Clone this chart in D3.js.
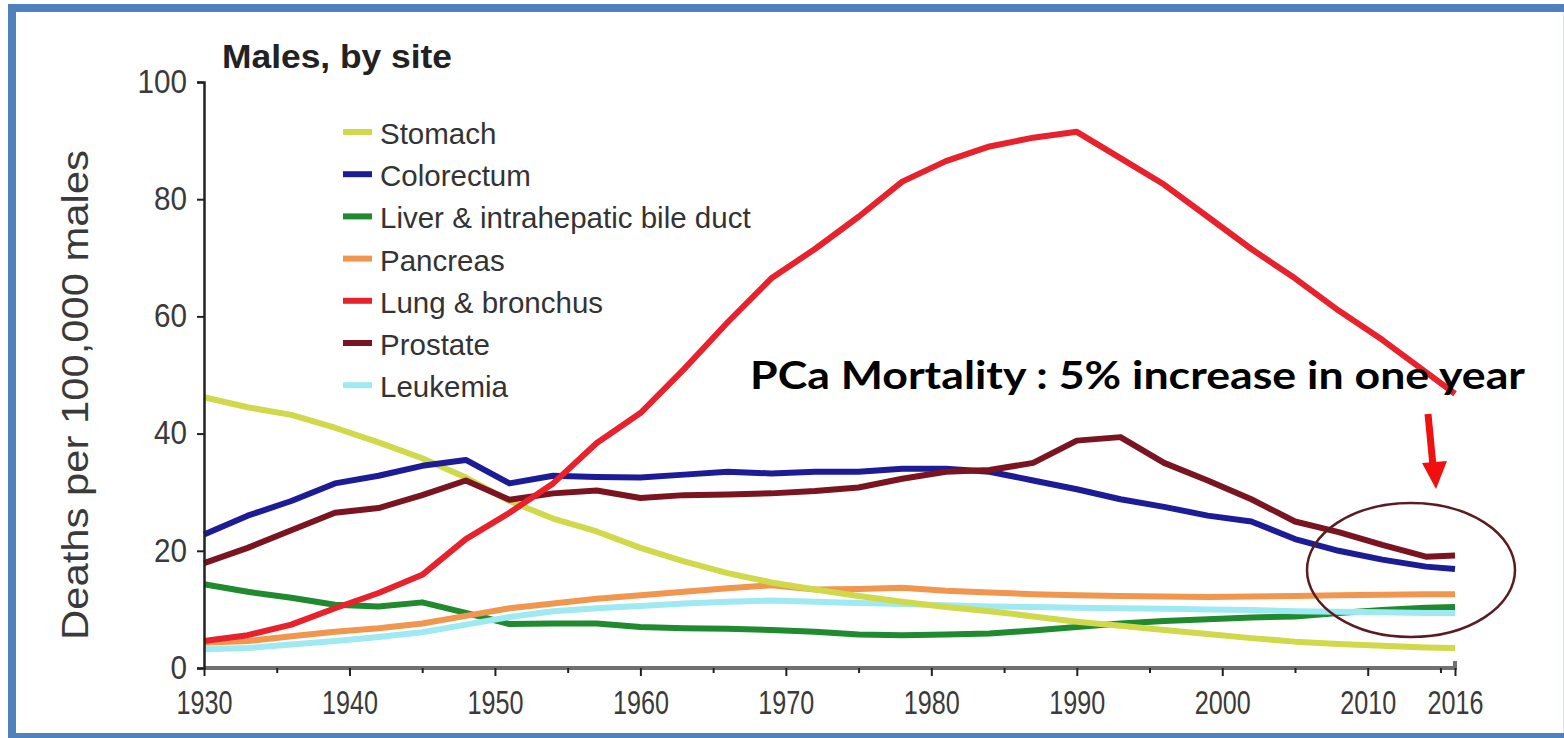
<!DOCTYPE html>
<html>
<head>
<meta charset="utf-8">
<script src="https://cdn.jsdelivr.net/npm/d3@7"></script>
<style>
  html, body { margin: 0; padding: 0; background: #fff; }
  svg { display: block; }
</style>
</head>
<body>
<div id="root"></div>
<script>
// values, deaths per 100,000 males
const years = [1930, 1933, 1936, 1939, 1942, 1945, 1948, 1951, 1954, 1957, 1960, 1963, 1966, 1969, 1972,
  1975, 1978, 1981, 1984, 1987, 1990, 1993, 1996, 1999, 2002, 2005, 2008, 2011, 2014, 2016];

const stomach = [46.2, 44.5, 43.2, 41, 38.5, 35.8, 32.5, 28.5, 25.5, 23.3, 20.5, 18.2, 16.2, 14.6, 13.4,
  12.3, 11.3, 10.4, 9.7, 8.8, 7.9, 7.2, 6.5, 5.8, 5.1, 4.5, 4.1, 3.8, 3.5, 3.4];
const colorectum = [22.8, 26, 28.5, 31.5, 32.8, 34.5, 35.5, 31.5, 32.8, 32.6, 32.5, 33, 33.5, 33.2, 33.5,
  33.5, 34, 34, 33.5, 32, 30.5, 28.8, 27.5, 26, 25, 22, 20, 18.5, 17.3, 16.9];
const liver = [14.3, 13, 12, 10.8, 10.5, 11.2, 9.4, 7.5, 7.6, 7.6, 7, 6.8, 6.7, 6.5, 6.2,
  5.7, 5.6, 5.7, 5.9, 6.4, 7, 7.6, 8, 8.3, 8.6, 8.8, 9.4, 9.9, 10.3, 10.4];
const pancreas = [4.3, 4.6, 5.4, 6.2, 6.8, 7.6, 8.9, 10.2, 11, 11.8, 12.4, 13, 13.6, 14.1, 13.4,
  13.5, 13.7, 13.2, 12.9, 12.6, 12.4, 12.3, 12.2, 12.1, 12.2, 12.3, 12.4, 12.5, 12.6, 12.6];
const lung = [4.6, 5.6, 7.4, 10.2, 12.8, 15.9, 22, 26.5, 31.5, 38.4, 43.5, 51, 59, 66.5, 71.5,
  77, 83, 86.5, 89, 90.5, 91.5, 87, 82.5, 77, 71.5, 66.5, 61, 56, 50.5, 46.8];
const prostate = [17.9, 20.5, 23.5, 26.5, 27.3, 29.5, 32, 28.7, 29.8, 30.3, 29, 29.5, 29.6, 29.8, 30.2,
  30.8, 32.3, 33.5, 33.8, 35, 38.8, 39.4, 35, 32, 28.8, 25, 23.2, 21, 19, 19.2];
const leukemia = [3.2, 3.4, 4, 4.6, 5.3, 6.1, 7.4, 8.7, 9.7, 10.2, 10.6, 11, 11.3, 11.5, 11.3,
  11.1, 10.9, 10.7, 10.5, 10.4, 10.3, 10.2, 10.1, 10, 9.9, 9.7, 9.6, 9.5, 9.4, 9.4];

const siteNames = ["Stomach", "Colorectum", "Liver & intrahepatic bile duct", "Pancreas",
  "Lung & bronchus", "Prostate", "Leukemia"];
const siteColors = ["#cfd94a", "#1c1c96", "#1f8a2e", "#f1964e", "#e8222c", "#7a1420", "#9ee9f2"];
const siteValues = [stomach, colorectum, liver, pancreas, lung, prostate, leukemia];
// drawing order, bottom first
const drawOrder = [2, 6, 3, 0, 1, 5, 4];

const xMajorTicks = [1930, 1940, 1950, 1960, 1970, 1980, 1990, 2000, 2010, 2016];
const xMinorTicks = [1935, 1945, 1955, 1965, 1975, 1985, 1995, 2005, 2015];
const yTicks = [0, 20, 40, 60, 80, 100];

const width = 1564;
const height = 738;
const fontNarrow = "'Liberation Sans Narrow', 'Liberation Sans', Arial, sans-serif";
const fontSans = "'Liberation Sans', Arial, sans-serif";

const x = d3.scaleLinear().domain([1930, 2016]).range([204, 1455]);
const y = d3.scaleLinear().domain([0, 100]).range([668, 82]);

const svg = d3.select("#root")
  .append("svg")
  .attr("width", width)
  .attr("height", height)
  .attr("viewBox", `0 0 ${width} ${height}`)
  .attr("xmlns", "http://www.w3.org/2000/svg");

svg.append("rect")
  .attr("width", width)
  .attr("height", height)
  .attr("fill", "#fff");

// slide frame, right side falls outside the picture
svg.append("rect")
  .attr("x", 12)
  .attr("y", 8)
  .attr("width", 1570)
  .attr("height", 729)
  .attr("fill", "none")
  .attr("stroke", "#4f81bd")
  .attr("stroke-width", 8);
svg.append("line")
  .attr("x1", 1563.5)
  .attr("x2", 1563.5)
  .attr("y1", 12)
  .attr("y2", 733)
  .attr("stroke", "#dde3ea")
  .attr("stroke-width", 1);

svg.append("text")
  .text("Males, by site")
  .attr("x", 222)
  .attr("y", 68)
  .attr("font-family", fontSans)
  .attr("font-weight", "bold")
  .attr("font-size", 34)
  .attr("textLength", 230)
  .attr("lengthAdjust", "spacingAndGlyphs")
  .attr("fill", "#222");

svg.append("text")
  .text("Deaths per 100,000 males")
  .attr("transform", "translate(88,395) rotate(-90)")
  .attr("text-anchor", "middle")
  .attr("font-family", fontSans)
  .attr("font-size", 36)
  .attr("textLength", 490)
  .attr("lengthAdjust", "spacingAndGlyphs")
  .attr("fill", "#3a3a3a");

// series
const line = d3.line()
  .x((d) => x(d[0]))
  .y((d) => y(d[1]));

drawOrder.forEach((i) => {
  const points = years.map((yr, k) => [yr, siteValues[i][k]]);
  svg.append("path")
    .attr("d", line(points))
    .attr("fill", "none")
    .attr("stroke", siteColors[i])
    .attr("stroke-width", 6)
    .attr("stroke-linejoin", "round")
    .attr("stroke-linecap", "butt");
});

// axes
const xAxis = svg.append("g")
  .attr("transform", `translate(0,${y(0)})`)
  .call(d3.axisBottom(x).tickValues(xMajorTicks).tickFormat(d3.format("d")).tickSize(8).tickPadding(14));

svg.append("g")
  .attr("transform", `translate(0,${y(0)})`)
  .call(d3.axisBottom(x).tickValues(xMinorTicks).tickFormat("").tickSize(5))
  .call((g) => g.select(".domain").remove())
  .selectAll("line")
  .attr("stroke", "#222")
  .attr("stroke-width", 2);

xAxis.select(".domain")
  .attr("d", `M${x(1930)},0H${x(2016)}V-7`)
  .attr("stroke", "#707070")
  .attr("stroke-width", 4);
xAxis.selectAll(".tick line")
  .attr("stroke", "#222")
  .attr("stroke-width", 2);
xAxis.selectAll("text")
  .attr("font-family", fontNarrow)
  .attr("font-size", 34)
  .attr("fill", "#3a3a3a")
  .attr("textLength", 56)
  .attr("lengthAdjust", "spacingAndGlyphs");

const yAxis = svg.append("g")
  .attr("transform", `translate(${x(1930)},0)`)
  .call(d3.axisLeft(y).tickValues(yTicks).tickSize(7).tickPadding(10));

yAxis.select(".domain")
  .attr("stroke", "#222")
  .attr("stroke-width", 2.5);
yAxis.selectAll(".tick line")
  .attr("stroke", "#222")
  .attr("stroke-width", 2);
yAxis.selectAll("text")
  .attr("font-family", fontNarrow)
  .attr("font-size", 34)
  .attr("fill", "#3a3a3a")
  .attr("dy", "0.3em")
  .each(function (d) {
    d3.select(this)
      .attr("textLength", String(d).length * 16.5)
      .attr("lengthAdjust", "spacingAndGlyphs");
  });

// legend
const legend = svg.append("g");
siteNames.forEach((name, i) => {
  const base = 144 + i * 42.2;
  legend.append("line")
    .attr("x1", 343)
    .attr("x2", 372)
    .attr("y1", base - 12)
    .attr("y2", base - 12)
    .attr("stroke", siteColors[i])
    .attr("stroke-width", 6);
  legend.append("text")
    .text(name)
    .attr("x", 380)
    .attr("y", base)
    .attr("font-family", fontSans)
    .attr("font-size", 29.5)
    .attr("fill", "#333");
});

// annotation
svg.append("text")
  .text("PCa Mortality : 5% increase in one year")
  .attr("x", 750)
  .attr("y", 389)
  .attr("font-family", "Lato, 'Open Sans', sans-serif")
  .attr("font-weight", "bold")
  .attr("font-size", 39)
  .attr("textLength", 775)
  .attr("lengthAdjust", "spacingAndGlyphs")
  .attr("fill", "#000");

svg.append("ellipse")
  .attr("cx", 1411)
  .attr("cy", 570)
  .attr("rx", 104)
  .attr("ry", 67)
  .attr("fill", "none")
  .attr("stroke", "#5a1c22")
  .attr("stroke-width", 2.5);

// red arrow
svg.append("line")
  .attr("x1", 1428)
  .attr("y1", 414)
  .attr("x2", 1433)
  .attr("y2", 466)
  .attr("stroke", "#f01010")
  .attr("stroke-width", 7);
svg.append("path")
  .attr("d", "M1422,463 L1447,461 L1436,489 Z")
  .attr("fill", "#f01010");
</script>
</body>
</html>
